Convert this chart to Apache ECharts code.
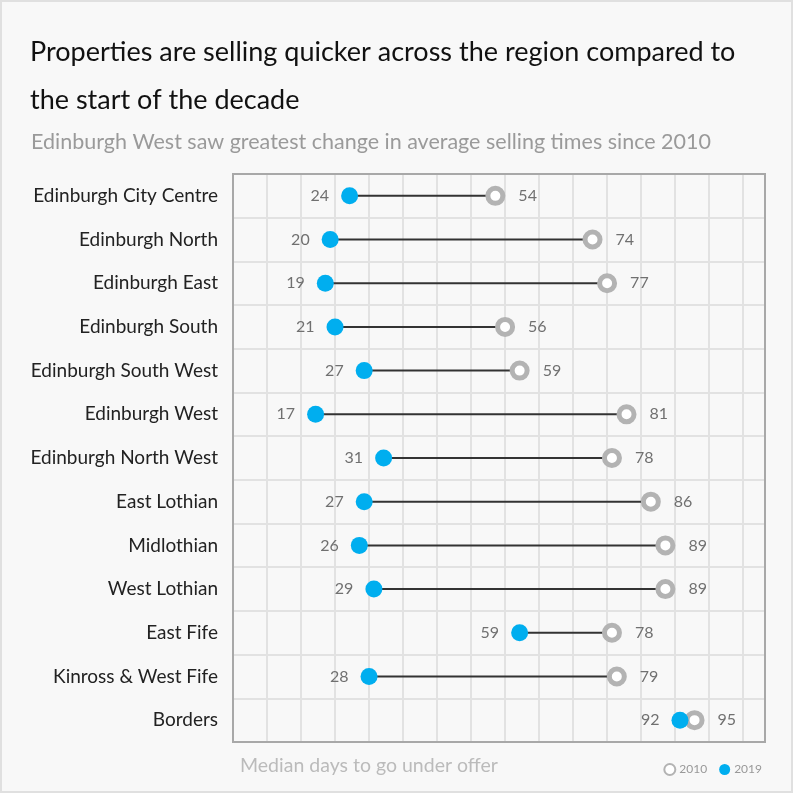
<!DOCTYPE html>
<html>
<head>
<meta charset="utf-8">
<script src="https://cdn.jsdelivr.net/npm/echarts@6/dist/echarts.min.js"></script>
<style>
html,body{margin:0;padding:0;background:#f8f8f8;}
#chart{width:793px;height:793px;}
</style>
</head>
<body>
<div id="chart"></div>
<script>
const categories = ["Edinburgh City Centre","Edinburgh North","Edinburgh East","Edinburgh South","Edinburgh South West","Edinburgh West","Edinburgh North West","East Lothian","Midlothian","West Lothian","East Fife","Kinross & West Fife","Borders"];
const days2019 = [24,20,19,21,27,17,31,27,26,29,59,28,92];
const days2010 = [54,74,77,56,59,81,78,86,89,89,78,79,95];
const titleText = "Properties are selling quicker across the region compared to\nthe start of the decade";
const subtitleText = "Edinburgh West saw greatest change in average selling times since 2010";
const axisTitle = "Median days to go under offer";

const FONT = "Lato";
const GRID = {left: 233, top: 174, width: 532, height: 568};
const chart = echarts.init(document.getElementById('chart'));
const option = {
  backgroundColor: '#f8f8f8',
  animation: false,
  title: [
    {text: titleText, left: 25, top: 23,
     textStyle: {fontFamily: FONT, fontSize: 27, fontWeight: 'normal', color: '#111', lineHeight: 48}},
    {text: subtitleText, left: 26, top: 124,
     textStyle: {fontFamily: FONT, fontSize: 21.5, fontWeight: 'normal', color: '#9a9a9a', lineHeight: 26}}
  ],
  graphic: [
    {type: 'rect', shape: {x: 1, y: 1, width: 791, height: 791}, style: {fill: 'none', stroke: '#e0e0e0', lineWidth: 2}, silent: true, z: -1},
    {type: 'rect', shape: {x: GRID.left, y: GRID.top, width: GRID.width, height: GRID.height}, style: {fill: 'none', stroke: '#a8a8a8', lineWidth: 2}, silent: true, z: 0, zlevel: 1},
    {type: 'text', left: 240, top: 756, style: {text: axisTitle, fontFamily: FONT, fontSize: 19.5, fill: '#bbbbbb'}}
  ],
  legend: {
    right: 26, top: 758, itemGap: 12, itemWidth: 11, itemHeight: 11,
    data: ['2010', '2019'],
    textStyle: {fontFamily: FONT, fontSize: 12, color: '#999', padding: [0,0,0,-1]}
  },
  grid: Object.assign({show: false}, GRID),
  xAxis: {type: 'value', min: 0, max: 109.5, interval: 7,
     axisLine: {show: false}, axisTick: {show: false}, axisLabel: {show: false},
     splitLine: {show: true, lineStyle: {color: '#e2e2e2', width: 2}}},
  yAxis: {
    type: 'category', data: categories, inverse: true,
    axisLine: {show: false}, axisTick: {show: false},
    axisLabel: {fontFamily: FONT, fontSize: 19, color: '#222', margin: 15},
    splitLine: {show: true, lineStyle: {color: '#e2e2e2', width: 2}}
  },
  series: [
    {
      type: 'custom', z: 1,
      data: categories.map((c, i) => [days2019[i], days2010[i], i]),
      encode: {x: [0, 1], y: 2},
      renderItem: function (params, api) {
        const a = api.coord([api.value(0), api.value(2)]);
        const b = api.coord([api.value(1), api.value(2)]);
        return {type: 'line', shape: {x1: a[0], y1: a[1], x2: b[0], y2: b[1]}, style: {stroke: '#333', lineWidth: 2}};
      }
    },
    {
      name: '2010', type: 'scatter', z: 3,
      data: categories.map((c, i) => [days2010[i], c]),
      symbol: 'circle', symbolSize: 15,
      itemStyle: {color: '#fff', borderColor: '#b3b3b3', borderWidth: 5, opacity: 1},
      label: {show: true, position: 'right', distance: 13, formatter: p => p.value[0],
              fontFamily: FONT, fontSize: 16, color: '#707070'}
    },
    {
      name: '2019', type: 'scatter', z: 4,
      data: categories.map((c, i) => [days2019[i], c]),
      symbol: 'circle', symbolSize: 17,
      itemStyle: {color: '#00aeef', opacity: 1},
      label: {show: true, position: 'left', distance: 12, formatter: p => p.value[0],
              fontFamily: FONT, fontSize: 16, color: '#707070'}
    }
  ]
};
chart.setOption(option);
</script>
</body>
</html>
